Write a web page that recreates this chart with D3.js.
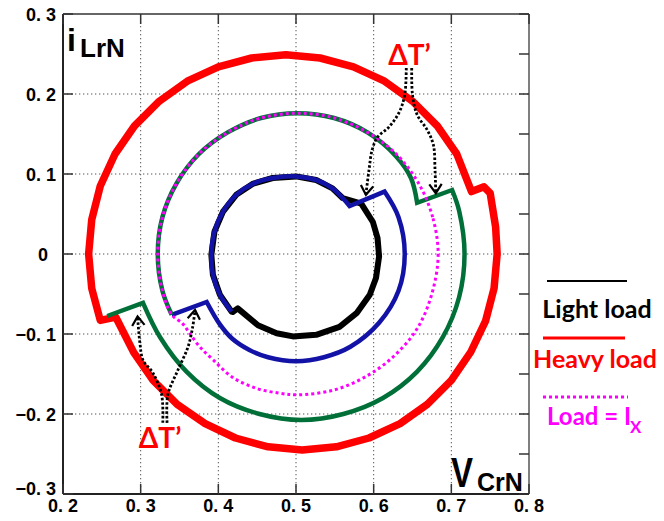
<!DOCTYPE html>
<html>
<head>
<meta charset="utf-8">
<script src="https://cdn.jsdelivr.net/npm/d3@7"></script>
<style>
  body { margin: 0; background: #fff; }
</style>
</head>
<body>
<div id="chart"></div>
<script>
// axis ticks and labels
var xTicks = [0.2, 0.3, 0.4, 0.5, 0.6, 0.7, 0.8];
var xTickLabels = ["0. 2", "0. 3", "0. 4", "0. 5", "0. 6", "0. 7", "0. 8"];
var yTicks = [-0.3, -0.2, -0.1, 0, 0.1, 0.2, 0.3];
var yTickLabels = ["\u22120. 3", "\u22120. 2", "\u22120. 1", "0", "0. 1", "0. 2", "0. 3"];
var yRightTicks = [-0.3, -0.25, -0.2, -0.15, -0.1, -0.05, 0, 0.05, 0.1, 0.15, 0.2, 0.25, 0.3];
var xGrid = [0.3, 0.4, 0.5, 0.6, 0.7];
var yGrid = [-0.2, -0.1, 0, 0.1, 0.2];

// state plane points [vCrN, iLrN]
var lightLoad = [
  [0.417, -0.072], [0.402, -0.051], [0.393, -0.026], [0.391, -0.001], [0.395, 0.028],
  [0.406, 0.053], [0.423, 0.074], [0.445, 0.088], [0.470, 0.095], [0.500, 0.097],
  [0.526, 0.0925], [0.547, 0.082], [0.560, 0.070], [0.584, 0.063], [0.599, 0.040],
  [0.605, 0.020], [0.607, -0.003], [0.603, -0.030], [0.595, -0.051], [0.578, -0.074],
  [0.556, -0.091], [0.526, -0.101], [0.496, -0.103], [0.475, -0.099], [0.451, -0.089],
  [0.430, -0.072], [0.425, -0.068], [0.4185, -0.0725]
];

var heavyUpper = [
  [0.248, -0.083], [0.237, -0.043], [0.233, 0], [0.237, 0.043], [0.248, 0.085],
  [0.267, 0.125], [0.292, 0.160], [0.324, 0.191], [0.360, 0.216], [0.400, 0.234],
  [0.443, 0.245], [0.487, 0.249], [0.531, 0.245], [0.574, 0.234], [0.614, 0.216],
  [0.650, 0.191], [0.682, 0.160], [0.707, 0.125], [0.726, 0.078]
];
var heavyLower = [
  [0.742, 0.084], [0.750, 0.076], [0.757, 0.034], [0.759, 0], [0.755, -0.043],
  [0.744, -0.084], [0.725, -0.1225], [0.700, -0.158], [0.669, -0.188], [0.634, -0.212],
  [0.594, -0.230], [0.552, -0.241], [0.508, -0.245], [0.464, -0.241], [0.422, -0.230],
  [0.383, -0.212], [0.347, -0.188], [0.316, -0.158], [0.291, -0.123], [0.268, -0.079]
];

var blueUpper = [
  [0.417, -0.072], [0.402, -0.051], [0.393, -0.026], [0.391, -0.001], [0.395, 0.028],
  [0.406, 0.053], [0.423, 0.074], [0.445, 0.088], [0.470, 0.095], [0.500, 0.097],
  [0.526, 0.0925], [0.547, 0.082], [0.560, 0.070], [0.569, 0.060]
];
var blueLower = [
  [0.614, 0.078], [0.632, 0.046], [0.640, 0], [0.632, -0.046], [0.607, -0.086],
  [0.570, -0.116], [0.536, -0.129], [0.500, -0.134], [0.464, -0.129], [0.440, -0.120],
  [0.418, -0.106], [0.402, -0.088], [0.385, -0.060]
];
var blueTail = [[0.340, -0.076]];

var greenUpper = [
  [0.340, -0.076], [0.328, -0.046], [0.322, 0], [0.328, 0.046], [0.346, 0.088],
  [0.375, 0.125], [0.412, 0.152], [0.455, 0.170], [0.502, 0.176], [0.549, 0.170],
  [0.592, 0.152], [0.629, 0.122], [0.648, 0.095], [0.656, 0.064]
];
var greenLower = [
  [0.701, 0.080], [0.710, 0.054], [0.717, 0], [0.710, -0.054], [0.689, -0.104],
  [0.656, -0.147], [0.612, -0.180], [0.561, -0.200], [0.507, -0.2075], [0.453, -0.200],
  [0.402, -0.180], [0.359, -0.147], [0.325, -0.104], [0.303, -0.061]
];
var greenTail = [[0.257, -0.0775]];

var loadIx = [
  [0.683, 0], [0.676, 0.046], [0.658, 0.088], [0.629, 0.125], [0.592, 0.152],
  [0.549, 0.170], [0.502, 0.176], [0.455, 0.170], [0.412, 0.152], [0.375, 0.125],
  [0.346, 0.088], [0.328, 0.046], [0.322, 0], [0.328, -0.046], [0.340, -0.076],
  [0.354, -0.087], [0.363, -0.099], [0.376, -0.116], [0.393, -0.132], [0.418, -0.154],
  [0.449, -0.168], [0.479, -0.174], [0.502, -0.176], [0.549, -0.170], [0.592, -0.152],
  [0.629, -0.125], [0.658, -0.090], [0.676, -0.046]
];

// delta T' arrows
var arrowsTop = [
  [[0.642, 0.2325], [0.640, 0.199], [0.633, 0.1775], [0.620, 0.159], [0.605, 0.146], [0.598, 0.130], [0.594, 0.105], [0.590, 0.074]],
  [[0.649, 0.2325], [0.650, 0.199], [0.656, 0.174], [0.669, 0.155], [0.677, 0.136], [0.679, 0.105], [0.680, 0.076]]
];
var arrowsBottom = [
  [[0.3285, -0.211], [0.327, -0.176], [0.316, -0.149], [0.303, -0.1325], [0.299, -0.111], [0.296, -0.078]],
  [[0.334, -0.211], [0.335, -0.176], [0.348, -0.145], [0.361, -0.116], [0.367, -0.091], [0.370, -0.070]]
];
var dtLabels = [[0.646, 0.236], [0.325, -0.2425]];

var W = 664, H = 521;
var svg = d3.select("#chart")
  .append("svg")
    .attr("width", W)
    .attr("height", H);

var x = d3.scaleLinear().domain([0.2, 0.8]).range([63, 529]);
var y = d3.scaleLinear().domain([-0.3, 0.3]).range([494, 14]);

// grid
svg.append("g").selectAll("line")
  .data(xGrid).enter().append("line")
    .attr("x1", d => x(d)).attr("x2", d => x(d))
    .attr("y1", y(0.3)).attr("y2", y(-0.3))
    .attr("stroke", "#555").attr("stroke-width", 1)
    .attr("stroke-dasharray", "1.3,2.7");
svg.append("g").selectAll("line")
  .data(yGrid).enter().append("line")
    .attr("y1", d => y(d)).attr("y2", d => y(d))
    .attr("x1", x(0.2)).attr("x2", x(0.8))
    .attr("stroke", "#555").attr("stroke-width", 1)
    .attr("stroke-dasharray", "1.3,2.7");

// joins several pieces into one path, the gap between pieces becomes a straight step
function trajPath(segs) {
  var p = d3.path(), started = false;
  var ctx = {
    moveTo: function(a, b) { if (started) p.lineTo(a, b); else { p.moveTo(a, b); started = true; } },
    lineTo: function(a, b) { p.lineTo(a, b); },
    bezierCurveTo: function(a, b, c, d, e, f) { p.bezierCurveTo(a, b, c, d, e, f); },
    closePath: function() { p.closePath(); }
  };
  segs.forEach(function(s) {
    if (s.pts.length == 1) { ctx.moveTo(x(s.pts[0][0]), y(s.pts[0][1])); return; }
    d3.line().x(d => x(d[0])).y(d => y(d[1])).curve(s.curve).context(ctx)(s.pts);
  });
  return p.toString();
}

var lineLin = d3.line().x(d => x(d[0])).y(d => y(d[1]));

// heavy load (red)
svg.append("path")
  .attr("d", lineLin(heavyUpper.concat(heavyLower)) + "Z")
  .attr("fill", "none")
  .attr("stroke", "#ff0000")
  .attr("stroke-width", 7.5)
  .attr("stroke-linejoin", "round");

// light load (black)
svg.append("path")
  .attr("d", lineLin(lightLoad) + "Z")
  .attr("fill", "none")
  .attr("stroke", "#000")
  .attr("stroke-width", 6)
  .attr("stroke-linejoin", "round");

// blue
svg.append("path")
  .attr("d", trajPath([
    {pts: blueUpper, curve: d3.curveCatmullRom},
    {pts: blueLower, curve: d3.curveCatmullRom},
    {pts: blueTail}
  ]))
  .attr("fill", "none")
  .attr("stroke", "#1212a6")
  .attr("stroke-width", 4.5);

// green
svg.append("path")
  .attr("d", trajPath([
    {pts: greenUpper, curve: d3.curveCatmullRom},
    {pts: greenLower, curve: d3.curveCatmullRom},
    {pts: greenTail}
  ]))
  .attr("fill", "none")
  .attr("stroke", "#006f38")
  .attr("stroke-width", 4.5);

// load = Ix (magenta dotted)
svg.append("path")
  .attr("d", d3.line().x(d => x(d[0])).y(d => y(d[1])).curve(d3.curveCatmullRomClosed)(loadIx))
  .attr("fill", "none")
  .attr("stroke", "#ff00ff")
  .attr("stroke-width", 3)
  .attr("stroke-dasharray", "3,3");

// dotted arrows
var arrowLine = d3.line().x(d => x(d[0])).y(d => y(d[1])).curve(d3.curveCatmullRom);
function arrowHead(pts) {
  var a = pts[pts.length - 2], b = pts[pts.length - 1];
  var x0 = x(a[0]), y0 = y(a[1]), x1 = x(b[0]), y1 = y(b[1]);
  var ang = Math.atan2(y1 - y0, x1 - x0);
  var len = 11, spread = 0.6;
  return "M" + (x1 - len * Math.cos(ang - spread)) + "," + (y1 - len * Math.sin(ang - spread)) +
    "L" + x1 + "," + y1 +
    "L" + (x1 - len * Math.cos(ang + spread)) + "," + (y1 - len * Math.sin(ang + spread));
}
var allArrows = arrowsTop.concat(arrowsBottom);
svg.append("g").selectAll("path")
  .data(allArrows).enter().append("path")
    .attr("d", d => arrowLine(d))
    .attr("fill", "none")
    .attr("stroke", "#000")
    .attr("stroke-width", 2.8)
    .attr("stroke-dasharray", "2.5,2");
svg.append("g").selectAll("path")
  .data(allArrows).enter().append("path")
    .attr("d", d => arrowHead(d))
    .attr("fill", "none")
    .attr("stroke", "#000")
    .attr("stroke-width", 2.2);

// delta T' labels
svg.append("g").selectAll("text")
  .data(dtLabels).enter().append("text")
    .attr("x", d => x(d[0]))
    .attr("y", d => y(d[1]))
    .attr("text-anchor", "middle")
    .style("font-family", "Lato, 'Liberation Sans', sans-serif")
    .style("font-weight", "bold")
    .style("font-size", "28px")
    .attr("fill", "#ff0000")
    .text("\u0394T\u2019");

// axes box
svg.append("line").attr("x1", x(0.2)).attr("x2", x(0.8)).attr("y1", y(0.3)).attr("y2", y(0.3))
  .attr("stroke", "#333").attr("stroke-width", 1.5);
svg.append("line").attr("x1", x(0.8)).attr("x2", x(0.8)).attr("y1", y(0.3)).attr("y2", y(-0.3))
  .attr("stroke", "#555").attr("stroke-width", 1.5);
svg.append("line").attr("x1", x(0.2)).attr("x2", x(0.8)).attr("y1", y(-0.3)).attr("y2", y(-0.3))
  .attr("stroke", "#222").attr("stroke-width", 2);
svg.append("line").attr("x1", x(0.2)).attr("x2", x(0.2)).attr("y1", y(0.3)).attr("y2", y(-0.3))
  .attr("stroke", "#222").attr("stroke-width", 2);

// ticks, pointing inward
var ticks = svg.append("g").attr("stroke", "#333").attr("stroke-width", 1.5);
xTicks.forEach(function(t) {
  ticks.append("line").attr("x1", x(t)).attr("x2", x(t)).attr("y1", y(-0.3)).attr("y2", y(-0.3) - 10);
  ticks.append("line").attr("x1", x(t)).attr("x2", x(t)).attr("y1", y(0.3)).attr("y2", y(0.3) + 10);
});
yTicks.forEach(function(t) {
  ticks.append("line").attr("y1", y(t)).attr("y2", y(t)).attr("x1", x(0.2)).attr("x2", x(0.2) + 10);
});
yRightTicks.forEach(function(t) {
  ticks.append("line").attr("y1", y(t)).attr("y2", y(t)).attr("x1", x(0.8)).attr("x2", x(0.8) - 10);
});

// tick labels
svg.append("g").selectAll("text")
  .data(xTicks).enter().append("text")
    .attr("x", d => x(d))
    .attr("y", 512)
    .attr("text-anchor", "middle")
    .style("font-family", "'Liberation Sans', Arial, sans-serif")
    .style("font-weight", "bold")
    .style("font-size", "18px")
    .text((d, i) => xTickLabels[i]);
svg.append("g").selectAll("text")
  .data(yTicks).enter().append("text")
    .attr("x", d => d == 0 ? 48 : 56)
    .attr("y", (d, i) => y(d) + 6.5 - (i == 0 ? 6 : 0))
    .attr("text-anchor", "end")
    .style("font-family", "'Liberation Sans', Arial, sans-serif")
    .style("font-weight", "bold")
    .style("font-size", "18px")
    .text((d, i) => yTickLabels[i]);

// axis names
function axisName(txt, px, py, size, len) {
  var t = svg.append("text")
    .attr("x", px).attr("y", py)
    .style("font-family", "'Liberation Sans', Arial, sans-serif")
    .style("font-weight", "bold")
    .style("font-size", size + "px")
    .text(txt);
  if (len) t.attr("textLength", len).attr("lengthAdjust", "spacingAndGlyphs");
}
axisName("i", 67, 51, 32);
axisName("LrN", 80, 57, 26);
axisName("V", 451, 487, 42, 22);
axisName("CrN", 477, 491, 25);

// legend
var legend = svg.append("g");
legend.append("line").attr("x1", 547).attr("x2", 627).attr("y1", 281).attr("y2", 281)
  .attr("stroke", "#000").attr("stroke-width", 2);
legend.append("line").attr("x1", 543).attr("x2", 625).attr("y1", 338).attr("y2", 338)
  .attr("stroke", "#ff0000").attr("stroke-width", 3);
legend.append("line").attr("x1", 543).attr("x2", 628).attr("y1", 397).attr("y2", 397)
  .attr("stroke", "#ff00ff").attr("stroke-width", 3).attr("stroke-dasharray", "3,3");

function legendText(txt, px, py, col, anchor, size) {
  legend.append("text")
    .attr("x", px).attr("y", py)
    .attr("text-anchor", anchor)
    .attr("fill", col)
    .style("font-family", "Lato, 'Liberation Sans', sans-serif")
    .style("font-weight", "bold")
    .style("font-size", size + "px")
    .text(txt);
}
legendText("Light load", 597, 318, "#000", "middle", 25);
legendText("Heavy load", 595, 368, "#ff0000", "middle", 25);
legendText("Load = I", 547, 425, "#ff00ff", "start", 24);
legendText("X", 630, 433, "#ff00ff", "start", 17);
</script>
</body>
</html>
